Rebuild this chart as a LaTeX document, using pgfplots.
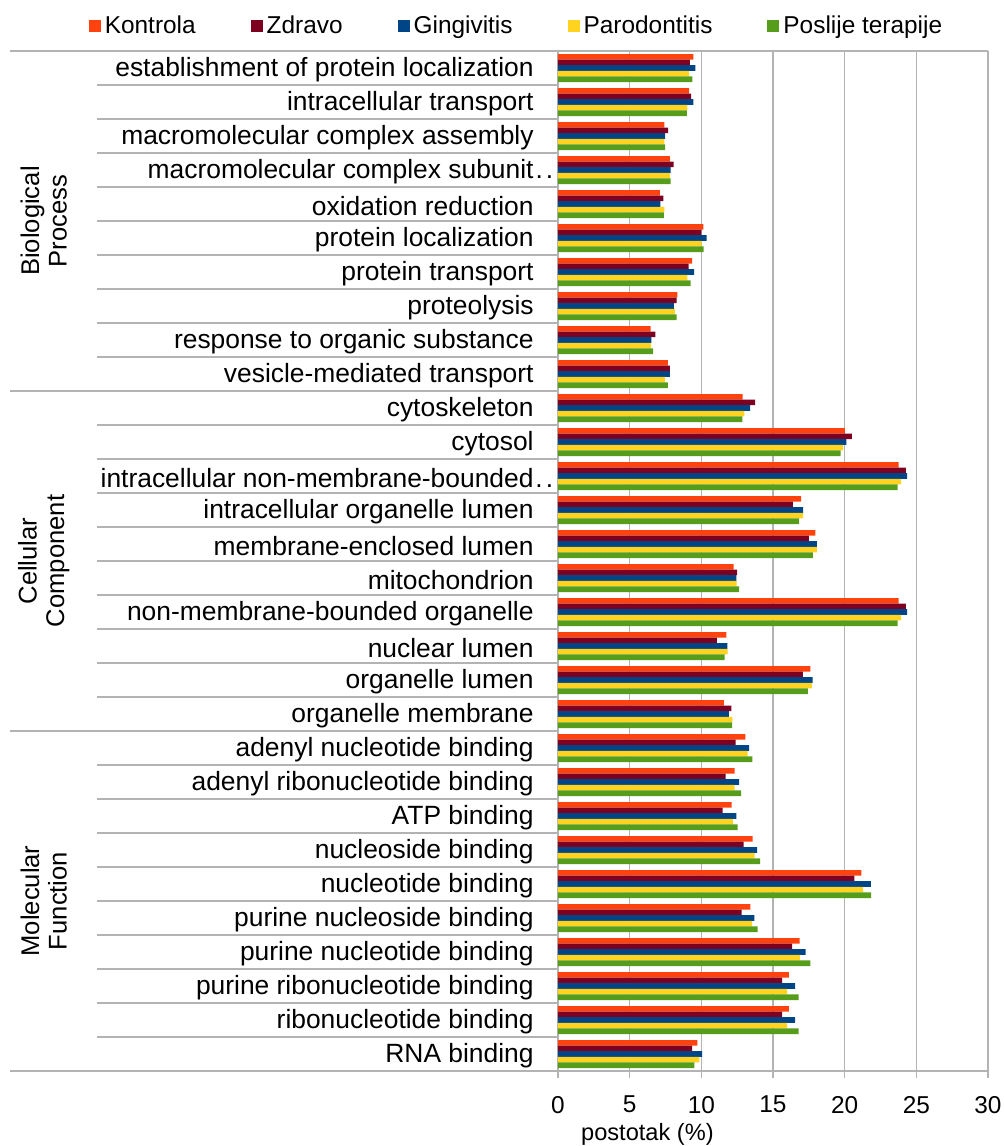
\documentclass[border=0pt]{standalone}
\usepackage{pgfplots}
\pgfplotsset{compat=1.18}
\usepackage{pgfplotstable}
\usepackage{fontspec}
\setmainfont{Liberation Sans}
\definecolor{cK}{HTML}{FF420E}
\definecolor{cZ}{HTML}{7E0021}
\definecolor{cG}{HTML}{004586}
\definecolor{cP}{HTML}{FFD320}
\definecolor{cT}{HTML}{579D1C}
\definecolor{gl}{HTML}{B3B3B3}
\pgfplotstableread{
y K Z G P T
29 9.44 9.20 9.58 9.14 9.37
28 9.14 9.28 9.44 9.02 9.00
27 7.43 7.69 7.48 7.43 7.48
26 7.80 8.06 7.85 7.80 7.85
25 7.10 7.36 7.15 7.43 7.38
24 10.14 10.00 10.37 10.02 10.16
23 9.35 9.11 9.49 9.02 9.25
22 8.32 8.27 8.08 8.15 8.27
21 6.47 6.80 6.52 6.50 6.64
20 7.66 7.80 7.80 7.45 7.66
19 12.88 13.75 13.40 13.00 12.86
18 20.02 20.51 20.12 19.90 19.72
17 23.76 24.27 24.36 23.94 23.69
16 16.97 16.38 17.10 17.10 16.83
15 17.95 17.50 18.06 18.06 17.78
14 12.25 12.49 12.44 12.46 12.63
13 23.76 24.27 24.36 23.94 23.69
12 11.74 11.08 11.81 11.83 11.62
11 17.60 17.08 17.76 17.71 17.43
10 11.58 12.09 11.93 12.16 12.14
9 13.07 12.39 13.33 13.23 13.56
8 12.32 11.69 12.63 12.32 12.77
7 12.11 11.48 12.44 12.20 12.53
6 13.58 12.95 13.89 13.72 14.10
5 21.17 20.68 21.82 21.28 21.84
4 13.42 12.81 13.70 13.54 13.93
3 16.85 16.34 17.27 16.87 17.60
2 16.10 15.64 16.55 15.99 16.78
1 16.10 15.64 16.55 15.99 16.78
0 9.73 9.36 10.06 9.87 9.52
}\datatable
\begin{document}
\begin{tikzpicture}
\useasboundingbox (0,0) rectangle (502pt,-573pt);
\begin{axis}[
  at={(279pt,-535.5pt)}, anchor=south west,
  scale only axis, width=215pt, height=510pt,
  xmin=0, xmax=30, ymin=-0.5, ymax=29.5,
  clip=false,
  axis line style={draw=none},
  xtick={0,5,...,30},
  xmajorgrids, grid style={gl, line width=0.6pt},
  xtick pos=bottom, xtick align=outside, major tick length=3.5pt,
  xtick style={gl, line width=0.6pt},
  xticklabel style={font=\fontsize{12.2}{15}\selectfont, yshift=-5.5pt},
  /pgf/number format/assume math mode=true,
  ytick={0,...,29},
  ytick style={draw=none}, ytick align=inside,
  yticklabel style={font=\fontsize{13.2}{15}\selectfont, anchor=east, inner sep=0pt, xshift=-8.5pt, yshift=-0.8pt},
  yticklabels={RNA binding, ribonucleotide binding, purine ribonucleotide binding, purine nucleotide binding, purine nucleoside binding, nucleotide binding, nucleoside binding, ATP binding, adenyl ribonucleotide binding, adenyl nucleotide binding, organelle membrane, organelle lumen, nuclear lumen, non-membrane-bounded organelle, mitochondrion, membrane-enclosed lumen, intracellular organelle lumen, {intracellular non-membrane-bounded\rlap{\kern1pt.\kern1.5pt.}}, cytosol, cytoskeleton, vesicle-mediated transport, response to organic substance, proteolysis, protein transport, protein localization, oxidation reduction, {macromolecular complex subunit\rlap{\kern1pt.\kern1.5pt.}}, macromolecular complex assembly, intracellular transport, establishment of protein localization},
  xlabel={postotak (\%)},
  xlabel style={font=\fontsize{11.8}{14}\selectfont, at={(rel axis cs:0.208,0)}, anchor=north, yshift=-22.5pt},
  xbar, bar width=2.8pt,
  legend columns=5,
  legend style={draw=none, fill=none, font=\fontsize{12.2}{14}\selectfont, at={(-0.0942,1.0245)}, anchor=center,
    /tikz/every even column/.append style={column sep=25.5pt}, inner sep=0pt},
  legend image code/.code={\fill (0pt,-3pt) rectangle (6pt,3pt);},
]
\addplot[fill=cK, draw=none, bar shift=5.6pt] table[x=K, y=y] {\datatable};
\addplot[fill=cZ, draw=none, bar shift=2.8pt] table[x=Z, y=y] {\datatable};
\addplot[fill=cG, draw=none, bar shift=0pt] table[x=G, y=y] {\datatable};
\addplot[fill=cP, draw=none, bar shift=-2.8pt] table[x=P, y=y] {\datatable};
\addplot[fill=cT, draw=none, bar shift=-5.6pt] table[x=T, y=y] {\datatable};
\legend{Kontrola, Zdravo, Gingivitis, Parodontitis, Poslije terapije}
\pgfplotsinvokeforeach{0.5,1.5,2.5,3.5,4.5,5.5,6.5,7.5,8.5,10.5,11.5,12.5,13.5,14.5,15.5,16.5,17.5,18.5,20.5,21.5,22.5,23.5,24.5,25.5,26.5,27.5,28.5}{
  \draw[gl, line width=0.6pt] (axis cs:0,#1) -- ++(-230.5pt,0pt);
}
\pgfplotsinvokeforeach{9.5,19.5}{
  \draw[gl, line width=0.6pt] (axis cs:0,#1) -- ++(-274pt,0pt);
}
\draw[gl, line width=0.6pt] (axis cs:30,29.5) -- ++(-489pt,0pt);
\draw[gl, line width=0.6pt] (axis cs:30,-0.5) -- ++(-489pt,0pt);
\node[font=\fontsize{12.8}{13.8}\selectfont, rotate=90, align=center] at (rel axis cs:-1.196,0.8333) {Biological\\Process};
\node[font=\fontsize{12.8}{13.8}\selectfont, rotate=90, align=center] at (rel axis cs:-1.196,0.5) {Cellular\\Component};
\node[font=\fontsize{12.8}{13.8}\selectfont, rotate=90, align=center] at (rel axis cs:-1.196,0.1667) {Molecular\\Function};
\end{axis}
\end{tikzpicture}
\end{document}
